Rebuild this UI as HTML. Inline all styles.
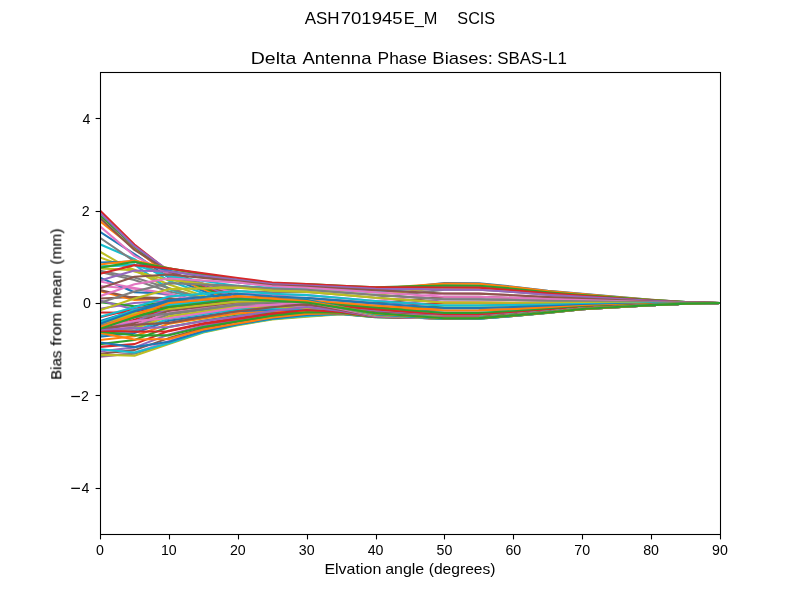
<!DOCTYPE html>
<html><head><meta charset="utf-8"><title>Delta Antenna Phase Biases</title>
<style>html,body{margin:0;padding:0;background:#fff;width:800px;height:600px;overflow:hidden}body{position:relative;font-family:"Liberation Sans",sans-serif}</style></head>
<body>
<svg width="800" height="600" viewBox="0 0 800 600" style="position:absolute;left:0;top:0">
<rect x="0" y="0" width="800" height="600" fill="#fff"/>
<defs><clipPath id="c"><rect x="100" y="72" width="620" height="462"/></clipPath></defs>
<g clip-path="url(#c)" fill="none" stroke-width="2.08" stroke-linejoin="round" stroke-linecap="butt">
<polyline points="100.00,328.87 134.44,317.32 168.89,307.02 203.33,303.00 237.78,298.98 272.22,300.82 306.67,302.54 341.11,307.85 375.56,313.16 410.00,315.71 444.44,318.25 478.89,318.09 513.33,315.50 547.78,312.45 582.22,309.03 616.67,307.06 651.11,305.16 685.56,303.66 720.00,303.00" stroke="#1f77b4"/>
<polyline points="100.00,326.10 134.44,315.94 168.89,305.77 203.33,302.54 237.78,299.30 272.22,300.97 306.67,302.54 341.11,307.88 375.56,313.22 410.00,315.70 444.44,318.17 478.89,318.02 513.33,315.44 547.78,312.40 582.22,309.00 616.67,307.04 651.11,305.15 685.56,303.65 720.00,303.00" stroke="#ff7f0e"/>
<polyline points="100.00,323.79 134.44,313.16 168.89,304.39 203.33,302.08 237.78,299.77 272.22,301.18 306.67,302.54 341.11,307.91 375.56,313.28 410.00,315.69 444.44,318.09 478.89,317.94 513.33,315.38 547.78,312.36 582.22,308.97 616.67,307.02 651.11,305.14 685.56,303.65 720.00,303.00" stroke="#2ca02c"/>
<polyline points="100.00,317.32 134.44,308.73 168.89,303.00 203.33,301.84 237.78,300.69 272.22,301.72 306.67,302.77 341.11,308.05 375.56,313.34 410.00,315.68 444.44,318.01 478.89,317.86 513.33,315.31 547.78,312.31 582.22,308.94 616.67,307.00 651.11,305.13 685.56,303.65 720.00,303.00" stroke="#d62728"/>
<polyline points="100.00,308.73 134.44,303.00 168.89,300.69 203.33,301.15 237.78,301.61 272.22,302.26 306.67,303.00 341.11,308.20 375.56,313.39 410.00,315.67 444.44,317.94 478.89,317.79 513.33,315.25 547.78,312.26 582.22,308.91 616.67,306.98 651.11,305.12 685.56,303.64 720.00,303.00" stroke="#9467bd"/>
<polyline points="100.00,298.52 134.44,296.99 168.89,298.38 203.33,300.69 237.78,303.00 272.22,302.96 306.67,303.12 341.11,308.28 375.56,313.45 410.00,315.66 444.44,317.86 478.89,317.71 513.33,315.19 547.78,312.21 582.22,308.88 616.67,306.96 651.11,305.11 685.56,303.64 720.00,303.00" stroke="#8c564b"/>
<polyline points="100.00,286.00 134.44,288.68 168.89,295.15 203.33,299.70 237.78,304.25 272.22,303.59 306.67,303.23 341.11,308.37 375.56,313.51 410.00,315.65 444.44,317.78 478.89,317.64 513.33,315.12 547.78,312.17 582.22,308.85 616.67,306.94 651.11,305.10 685.56,303.64 720.00,303.00" stroke="#e377c2"/>
<polyline points="100.00,272.05 134.44,279.90 168.89,291.45 203.33,298.50 237.78,305.54 272.22,304.25 306.67,303.35 341.11,308.46 375.56,313.57 410.00,315.63 444.44,317.69 478.89,317.54 513.33,315.05 547.78,312.11 582.22,308.81 616.67,306.92 651.11,305.08 685.56,303.63 720.00,303.00" stroke="#7f7f7f"/>
<polyline points="100.00,268.35 134.44,270.11 168.89,288.22 203.33,297.55 237.78,306.88 272.22,304.92 306.67,303.46 341.11,308.54 375.56,313.63 410.00,315.61 444.44,317.60 478.89,317.45 513.33,314.97 547.78,312.05 582.22,308.78 616.67,306.89 651.11,305.07 685.56,303.63 720.00,303.00" stroke="#bcbd22"/>
<polyline points="100.00,266.50 134.44,264.65 168.89,289.14 203.33,299.30 237.78,309.47 272.22,306.15 306.67,303.51 341.11,308.62 375.56,313.74 410.00,315.62 444.44,317.51 478.89,317.36 513.33,314.90 547.78,311.99 582.22,308.74 616.67,306.87 651.11,305.06 685.56,303.62 720.00,303.00" stroke="#17becf"/>
<polyline points="100.00,277.59 134.44,292.24 168.89,293.76 203.33,302.08 237.78,310.39 272.22,306.60 306.67,303.55 341.11,308.71 375.56,313.86 410.00,315.64 444.44,317.41 478.89,317.27 513.33,314.82 547.78,311.94 582.22,308.70 616.67,306.84 651.11,305.05 685.56,303.62 720.00,303.00" stroke="#1f77b4"/>
<polyline points="100.00,291.27 134.44,300.00 168.89,298.38 203.33,304.62 237.78,310.85 272.22,306.82 306.67,303.57 341.11,308.77 375.56,313.97 410.00,315.65 444.44,317.32 478.89,317.18 513.33,314.74 547.78,311.88 582.22,308.67 616.67,306.82 651.11,305.03 685.56,303.62 720.00,303.00" stroke="#ff7f0e"/>
<polyline points="100.00,302.08 134.44,306.23 168.89,302.08 203.33,306.70 237.78,311.32 272.22,307.04 306.67,303.59 341.11,308.84 375.56,314.09 410.00,315.65 444.44,317.21 478.89,317.06 513.33,314.65 547.78,311.81 582.22,308.62 616.67,306.79 651.11,305.02 685.56,303.61 720.00,303.00" stroke="#2ca02c"/>
<polyline points="100.00,312.52 134.44,312.70 168.89,305.31 203.33,308.43 237.78,311.55 272.22,307.16 306.67,303.60 341.11,308.92 375.56,314.24 410.00,315.67 444.44,317.09 478.89,316.95 513.33,314.55 547.78,311.74 582.22,308.57 616.67,306.76 651.11,305.00 685.56,303.61 720.00,303.00" stroke="#d62728"/>
<polyline points="100.00,300.51 134.44,309.47 168.89,303.00 203.33,307.27 237.78,311.55 272.22,307.15 306.67,303.58 341.11,308.99 375.56,314.40 410.00,315.69 444.44,316.98 478.89,316.84 513.33,314.46 547.78,311.66 582.22,308.53 616.67,306.73 651.11,304.98 685.56,303.60 720.00,303.00" stroke="#9467bd"/>
<polyline points="100.00,290.06 134.44,298.38 168.89,298.38 203.33,304.85 237.78,311.32 272.22,307.03 306.67,303.55 341.11,309.05 375.56,314.55 410.00,315.71 444.44,316.86 478.89,316.72 513.33,314.37 547.78,311.59 582.22,308.48 616.67,306.70 651.11,304.97 685.56,303.60 720.00,303.00" stroke="#8c564b"/>
<polyline points="100.00,281.52 134.44,287.99 168.89,293.76 203.33,302.54 237.78,311.32 272.22,307.03 306.67,303.55 341.11,309.17 375.56,314.78 410.00,315.68 444.44,316.58 478.89,316.45 513.33,314.14 547.78,311.42 582.22,308.37 616.67,306.62 651.11,304.93 685.56,303.58 720.00,303.00" stroke="#e377c2"/>
<polyline points="100.00,270.66 134.44,277.59 168.89,288.22 203.33,298.84 237.78,309.47 272.22,306.17 306.67,303.55 341.11,309.28 375.56,315.01 410.00,315.66 444.44,316.31 478.89,316.17 513.33,313.91 547.78,311.25 582.22,308.26 616.67,306.55 651.11,304.89 685.56,303.57 720.00,303.00" stroke="#7f7f7f"/>
<polyline points="100.00,257.49 134.44,269.74 168.89,284.52 203.33,295.70 237.78,306.88 272.22,304.97 306.67,303.55 341.11,308.94 375.56,314.32 410.00,314.62 444.44,314.92 478.89,314.80 513.33,312.77 547.78,310.39 582.22,307.72 616.67,306.18 651.11,304.69 685.56,303.51 720.00,303.00" stroke="#bcbd22"/>
<polyline points="100.00,244.33 134.44,259.11 168.89,280.82 203.33,293.18 237.78,305.54 272.22,304.34 306.67,303.54 341.11,308.58 375.56,313.63 410.00,313.33 444.44,313.03 478.89,312.93 513.33,311.22 547.78,309.22 582.22,306.97 616.67,305.67 651.11,304.42 685.56,303.43 720.00,303.00" stroke="#17becf"/>
<polyline points="100.00,231.85 134.44,254.03 168.89,277.59 203.33,290.92 237.78,304.25 272.22,303.73 306.67,303.52 341.11,308.06 375.56,312.59 410.00,311.54 444.44,310.48 478.89,310.41 513.33,309.14 547.78,307.64 582.22,305.96 616.67,305.00 651.11,304.06 685.56,303.32 720.00,303.00" stroke="#1f77b4"/>
<polyline points="100.00,221.23 134.44,248.48 168.89,275.28 203.33,289.14 237.78,303.00 272.22,303.14 306.67,303.51 341.11,307.53 375.56,311.55 410.00,309.77 444.44,307.99 478.89,307.94 513.33,307.09 547.78,306.09 582.22,304.97 616.67,304.33 651.11,303.71 685.56,303.21 720.00,303.00" stroke="#ff7f0e"/>
<polyline points="100.00,215.22 134.44,246.64 168.89,273.43 203.33,287.52 237.78,301.61 272.22,302.47 306.67,303.46 341.11,306.51 375.56,309.56 410.00,307.53 444.44,305.49 478.89,305.47 513.33,305.05 547.78,304.55 582.22,303.99 616.67,303.67 651.11,303.35 685.56,303.11 720.00,303.00" stroke="#2ca02c"/>
<polyline points="100.00,210.60 134.44,244.51 168.89,271.58 203.33,285.91 237.78,300.23 272.22,301.18 306.67,302.08 341.11,304.96 375.56,307.85 410.00,305.24 444.44,302.63 478.89,302.63 513.33,302.70 547.78,302.77 582.22,302.83 616.67,302.89 651.11,302.94 685.56,302.98 720.00,303.00" stroke="#d62728"/>
<polyline points="100.00,212.91 134.44,246.17 168.89,270.66 203.33,284.82 237.78,298.98 272.22,299.85 306.67,300.46 341.11,303.12 375.56,305.77 410.00,302.54 444.44,299.30 478.89,299.34 513.33,299.97 547.78,300.71 582.22,301.30 616.67,301.85 651.11,302.39 685.56,302.82 720.00,303.00" stroke="#9467bd"/>
<polyline points="100.00,217.99 134.44,249.87 168.89,271.58 203.33,283.99 237.78,296.39 272.22,297.47 306.67,297.92 341.11,300.64 375.56,303.37 410.00,300.02 444.44,296.67 478.89,296.73 513.33,297.81 547.78,299.08 582.22,300.09 616.67,301.04 651.11,301.96 685.56,302.68 720.00,303.00" stroke="#8c564b"/>
<polyline points="100.00,226.31 134.44,255.88 168.89,273.89 203.33,283.83 237.78,293.76 272.22,294.95 306.67,295.15 341.11,298.03 375.56,300.92 410.00,297.23 444.44,293.53 478.89,293.62 513.33,295.23 547.78,297.13 582.22,298.64 616.67,300.06 651.11,301.44 685.56,302.53 720.00,303.00" stroke="#e377c2"/>
<polyline points="100.00,237.86 134.44,261.42 168.89,276.20 203.33,283.67 237.78,291.13 272.22,292.23 306.67,291.91 341.11,294.80 375.56,297.69 410.00,293.67 444.44,289.65 478.89,289.78 513.33,292.05 547.78,294.72 582.22,296.86 616.67,298.86 651.11,300.80 685.56,302.33 720.00,303.00" stroke="#7f7f7f"/>
<polyline points="100.00,251.72 134.44,271.58 168.89,279.90 203.33,283.76 237.78,287.62 272.22,289.63 306.67,289.83 341.11,292.37 375.56,294.92 410.00,291.17 444.44,287.43 478.89,287.59 513.33,290.23 547.78,293.35 582.22,295.84 616.67,298.17 651.11,300.43 685.56,302.22 720.00,303.00" stroke="#bcbd22"/>
<polyline points="100.00,266.50 134.44,264.65 168.89,276.20 203.33,281.06 237.78,285.91 272.22,287.86 306.67,287.75 341.11,290.06 375.56,292.37 410.00,288.96 444.44,285.54 478.89,285.71 513.33,288.68 547.78,292.17 582.22,294.97 616.67,297.59 651.11,300.12 685.56,302.13 720.00,303.00" stroke="#17becf"/>
<polyline points="100.00,262.48 134.44,261.42 168.89,270.66 203.33,276.53 237.78,282.39 272.22,285.70 306.67,286.60 341.11,288.45 375.56,290.29 410.00,286.71 444.44,283.13 478.89,283.33 513.33,286.71 547.78,290.68 582.22,293.86 616.67,296.84 651.11,299.72 685.56,302.01 720.00,303.00" stroke="#1f77b4"/>
<polyline points="100.00,264.52 134.44,260.50 168.89,268.35 203.33,274.82 237.78,281.29 272.22,284.64 306.67,285.44 341.11,287.06 375.56,288.68 410.00,286.14 444.44,283.60 478.89,283.79 513.33,287.09 547.78,290.97 582.22,294.07 616.67,296.98 651.11,299.80 685.56,302.03 720.00,303.00" stroke="#ff7f0e"/>
<polyline points="100.00,267.75 134.44,261.74 168.89,268.35 203.33,274.12 237.78,279.90 272.22,283.35 306.67,284.06 341.11,285.68 375.56,287.29 410.00,286.41 444.44,285.54 478.89,285.71 513.33,288.68 547.78,292.17 582.22,294.97 616.67,297.59 651.11,300.12 685.56,302.13 720.00,303.00" stroke="#2ca02c"/>
<polyline points="100.00,273.76 134.44,265.12 168.89,268.49 203.33,273.27 237.78,278.05 272.22,282.49 306.67,284.06 341.11,285.68 375.56,287.29 410.00,287.36 444.44,287.43 478.89,287.59 513.33,290.23 547.78,293.35 582.22,295.84 616.67,298.17 651.11,300.43 685.56,302.22 720.00,303.00" stroke="#d62728"/>
<polyline points="100.00,280.50 134.44,270.43 168.89,271.58 203.33,275.74 237.78,279.90 272.22,284.00 306.67,285.44 341.11,287.06 375.56,288.68 410.00,289.16 444.44,289.65 478.89,289.78 513.33,292.05 547.78,294.72 582.22,296.86 616.67,298.86 651.11,300.80 685.56,302.33 720.00,303.00" stroke="#9467bd"/>
<polyline points="100.00,288.26 134.44,276.67 168.89,274.49 203.33,277.89 237.78,281.29 272.22,285.18 306.67,286.60 341.11,288.45 375.56,290.29 410.00,291.91 444.44,293.53 478.89,293.62 513.33,295.23 547.78,297.13 582.22,298.64 616.67,300.06 651.11,301.44 685.56,302.53 720.00,303.00" stroke="#8c564b"/>
<polyline points="100.00,296.21 134.44,284.24 168.89,278.51 203.33,280.45 237.78,282.39 272.22,286.23 306.67,287.75 341.11,290.06 375.56,292.37 410.00,294.52 444.44,296.67 478.89,296.73 513.33,297.81 547.78,299.08 582.22,300.09 616.67,301.04 651.11,301.96 685.56,302.68 720.00,303.00" stroke="#e377c2"/>
<polyline points="100.00,302.77 134.44,291.45 168.89,283.13 203.33,284.52 237.78,285.91 272.22,288.83 306.67,289.83 341.11,292.37 375.56,294.92 410.00,297.11 444.44,299.30 478.89,299.34 513.33,299.97 547.78,300.71 582.22,301.30 616.67,301.85 651.11,302.39 685.56,302.82 720.00,303.00" stroke="#7f7f7f"/>
<polyline points="100.00,310.25 134.44,298.61 168.89,289.14 203.33,288.38 237.78,287.62 272.22,290.59 306.67,291.91 341.11,294.80 375.56,297.69 410.00,300.16 444.44,302.63 478.89,302.63 513.33,302.70 547.78,302.77 582.22,302.83 616.67,302.89 651.11,302.94 685.56,302.98 720.00,303.00" stroke="#bcbd22"/>
<polyline points="100.00,316.86 134.44,307.30 168.89,296.53 203.33,293.83 237.78,291.13 272.22,293.73 306.67,295.15 341.11,298.03 375.56,300.92 410.00,303.21 444.44,305.49 478.89,305.47 513.33,305.05 547.78,304.55 582.22,303.99 616.67,303.67 651.11,303.35 685.56,303.11 720.00,303.00" stroke="#17becf"/>
<polyline points="100.00,321.02 134.44,310.39 168.89,300.23 203.33,296.99 237.78,293.76 272.22,296.24 306.67,297.92 341.11,300.64 375.56,303.37 410.00,305.68 444.44,307.99 478.89,307.94 513.33,307.09 547.78,306.09 582.22,304.97 616.67,304.33 651.11,303.71 685.56,303.21 720.00,303.00" stroke="#1f77b4"/>
<polyline points="100.00,324.48 134.44,314.37 168.89,303.32 203.33,299.86 237.78,296.39 272.22,298.65 306.67,300.46 341.11,303.12 375.56,305.77 410.00,308.13 444.44,310.48 478.89,310.41 513.33,309.14 547.78,307.64 582.22,305.96 616.67,305.00 651.11,304.06 685.56,303.32 720.00,303.00" stroke="#ff7f0e"/>
<polyline points="100.00,327.95 134.44,316.86 168.89,307.02 203.33,303.00 237.78,298.98 272.22,300.60 306.67,302.08 341.11,304.96 375.56,307.85 410.00,310.44 444.44,313.03 478.89,312.93 513.33,311.22 547.78,309.22 582.22,306.97 616.67,305.67 651.11,304.42 685.56,303.43 720.00,303.00" stroke="#2ca02c"/>
<polyline points="100.00,329.80 134.44,319.63 168.89,308.08 203.33,304.16 237.78,300.23 272.22,301.83 306.67,303.46 341.11,306.51 375.56,309.56 410.00,312.24 444.44,314.92 478.89,314.80 513.33,312.77 547.78,310.39 582.22,307.72 616.67,306.18 651.11,304.69 685.56,303.51 720.00,303.00" stroke="#d62728"/>
<polyline points="100.00,330.72 134.44,321.48 168.89,309.47 203.33,305.54 237.78,301.61 272.22,303.12 306.67,304.85 341.11,308.20 375.56,311.55 410.00,313.93 444.44,316.31 478.89,316.17 513.33,313.91 547.78,311.25 582.22,308.26 616.67,306.55 651.11,304.89 685.56,303.57 720.00,303.00" stroke="#9467bd"/>
<polyline points="100.00,331.64 134.44,323.33 168.89,310.85 203.33,306.93 237.78,303.00 272.22,304.30 306.67,306.00 341.11,309.29 375.56,312.59 410.00,314.58 444.44,316.58 478.89,316.45 513.33,314.14 547.78,311.42 582.22,308.37 616.67,306.62 651.11,304.93 685.56,303.58 720.00,303.00" stroke="#8c564b"/>
<polyline points="100.00,332.57 134.44,325.18 168.89,312.98 203.33,308.61 237.78,304.25 272.22,305.42 306.67,307.16 341.11,310.22 375.56,313.63 410.00,315.24 444.44,316.86 478.89,316.72 513.33,314.37 547.78,311.59 582.22,308.48 616.67,306.70 651.11,304.97 685.56,303.60 720.00,303.00" stroke="#e377c2"/>
<polyline points="100.00,333.49 134.44,327.02 168.89,314.55 203.33,310.05 237.78,305.54 272.22,306.45 306.67,308.08 341.11,310.72 375.56,314.32 410.00,315.65 444.44,316.98 478.89,316.84 513.33,314.46 547.78,311.66 582.22,308.53 616.67,306.73 651.11,304.98 685.56,303.60 720.00,303.00" stroke="#7f7f7f"/>
<polyline points="100.00,334.42 134.44,328.41 168.89,316.40 203.33,311.64 237.78,306.88 272.22,307.50 306.67,309.01 341.11,311.22 375.56,315.01 410.00,316.05 444.44,317.09 478.89,316.95 513.33,314.55 547.78,311.74 582.22,308.57 616.67,306.76 651.11,305.00 685.56,303.61 720.00,303.00" stroke="#bcbd22"/>
<polyline points="100.00,335.02 134.44,330.72 168.89,318.71 203.33,314.09 237.78,309.47 272.22,309.13 306.67,309.93 341.11,311.61 375.56,315.36 410.00,316.28 444.44,317.21 478.89,317.06 513.33,314.65 547.78,311.81 582.22,308.62 616.67,306.79 651.11,305.02 685.56,303.61 720.00,303.00" stroke="#17becf"/>
<polyline points="100.00,336.68 134.44,333.03 168.89,320.79 203.33,316.05 237.78,311.32 272.22,310.42 306.67,310.85 341.11,312.01 375.56,315.71 410.00,316.51 444.44,317.32 478.89,317.18 513.33,314.74 547.78,311.88 582.22,308.67 616.67,306.82 651.11,305.03 685.56,303.62 720.00,303.00" stroke="#1f77b4"/>
<polyline points="100.00,339.96 134.44,336.26 168.89,323.79 203.33,318.38 237.78,313.39 272.22,311.82 306.67,311.78 341.11,312.36 375.56,315.94 410.00,316.68 444.44,317.41 478.89,317.27 513.33,314.82 547.78,311.94 582.22,308.70 616.67,306.84 651.11,305.05 685.56,303.62 720.00,303.00" stroke="#ff7f0e"/>
<polyline points="100.00,344.12 134.44,339.96 168.89,327.02 203.33,320.72 237.78,315.47 272.22,313.21 306.67,312.70 341.11,312.72 375.56,316.17 410.00,316.84 444.44,317.51 478.89,317.36 513.33,314.90 547.78,311.99 582.22,308.74 616.67,306.87 651.11,305.06 685.56,303.62 720.00,303.00" stroke="#2ca02c"/>
<polyline points="100.00,346.89 134.44,344.12 168.89,330.72 203.33,323.32 237.78,317.69 272.22,314.68 306.67,313.63 341.11,313.08 375.56,316.40 410.00,317.00 444.44,317.60 478.89,317.45 513.33,314.97 547.78,312.05 582.22,308.78 616.67,306.89 651.11,305.07 685.56,303.63 720.00,303.00" stroke="#d62728"/>
<polyline points="100.00,351.51 134.44,347.35 168.89,334.42 203.33,325.87 237.78,319.77 272.22,316.07 306.67,314.55 341.11,313.44 375.56,316.63 410.00,317.16 444.44,317.69 478.89,317.54 513.33,315.05 547.78,312.11 582.22,308.81 616.67,306.92 651.11,305.08 685.56,303.63 720.00,303.00" stroke="#9467bd"/>
<polyline points="100.00,353.82 134.44,350.12 168.89,338.11 203.33,328.31 237.78,321.64 272.22,317.26 306.67,315.24 341.11,313.69 375.56,316.74 410.00,317.26 444.44,317.78 478.89,317.64 513.33,315.12 547.78,312.17 582.22,308.85 616.67,306.94 651.11,305.10 685.56,303.64 720.00,303.00" stroke="#8c564b"/>
<polyline points="100.00,357.05 134.44,352.90 168.89,340.88 203.33,330.36 237.78,323.51 272.22,318.46 306.67,315.94 341.11,313.94 375.56,316.86 410.00,317.37 444.44,317.88 478.89,317.73 513.33,315.20 547.78,312.22 582.22,308.89 616.67,306.97 651.11,305.11 685.56,303.64 720.00,303.00" stroke="#e377c2"/>
<polyline points="100.00,356.13 134.44,353.82 168.89,343.19 203.33,331.74 237.78,324.34 272.22,319.00 306.67,316.28 341.11,314.08 375.56,316.98 410.00,317.47 444.44,317.97 478.89,317.82 513.33,315.27 547.78,312.28 582.22,308.92 616.67,306.99 651.11,305.12 685.56,303.64 720.00,303.00" stroke="#7f7f7f"/>
<polyline points="100.00,354.74 134.44,355.67 168.89,344.12 203.33,332.51 237.78,325.18 272.22,319.55 306.67,316.63 341.11,314.23 375.56,317.09 410.00,317.58 444.44,318.06 478.89,317.91 513.33,315.35 547.78,312.34 582.22,308.96 616.67,307.02 651.11,305.14 685.56,303.65 720.00,303.00" stroke="#bcbd22"/>
<polyline points="100.00,349.20 134.44,352.43 168.89,343.19 203.33,331.92 237.78,324.76 272.22,319.04 306.67,315.94 341.11,314.01 375.56,317.09 410.00,317.62 444.44,318.15 478.89,318.00 513.33,315.43 547.78,312.40 582.22,308.99 616.67,307.04 651.11,305.15 685.56,303.65 720.00,303.00" stroke="#17becf"/>
<polyline points="100.00,342.50 134.44,347.12 168.89,341.81 203.33,331.13 237.78,324.34 272.22,318.41 306.67,315.01 341.11,313.65 375.56,316.86 410.00,317.55 444.44,318.25 478.89,318.09 513.33,315.50 547.78,312.45 582.22,309.03 616.67,307.06 651.11,305.16 685.56,303.66 720.00,303.00" stroke="#1f77b4"/>
<polyline points="100.00,332.89 134.44,339.50 168.89,339.04 203.33,329.54 237.78,323.51 272.22,317.49 306.67,313.86 341.11,313.30 375.56,316.86 410.00,317.60 444.44,318.34 478.89,318.19 513.33,315.58 547.78,312.51 582.22,309.07 616.67,307.09 651.11,305.18 685.56,303.66 720.00,303.00" stroke="#ff7f0e"/>
<polyline points="100.00,331.64 134.44,335.34 168.89,335.34 203.33,326.91 237.78,321.23 272.22,315.67 306.67,312.24 341.11,312.79 375.56,316.86 410.00,317.65 444.44,318.43 478.89,318.28 513.33,315.65 547.78,312.57 582.22,309.10 616.67,307.11 651.11,305.19 685.56,303.66 720.00,303.00" stroke="#2ca02c"/>
<polyline points="100.00,330.72 134.44,331.64 168.89,331.18 203.33,324.08 237.78,318.94 272.22,313.54 306.67,309.93 341.11,312.04 375.56,316.74 410.00,317.63 444.44,318.52 478.89,318.37 513.33,315.73 547.78,312.62 582.22,309.14 616.67,307.14 651.11,305.20 685.56,303.67 720.00,303.00" stroke="#d62728"/>
<polyline points="100.00,329.80 134.44,328.41 168.89,327.02 203.33,321.13 237.78,316.40 272.22,310.96 306.67,306.93 341.11,311.08 375.56,316.63 410.00,317.62 444.44,318.62 478.89,318.46 513.33,315.80 547.78,312.68 582.22,309.18 616.67,307.16 651.11,305.22 685.56,303.67 720.00,303.00" stroke="#9467bd"/>
<polyline points="100.00,328.41 134.44,324.71 168.89,322.87 203.33,317.06 237.78,311.32 272.22,307.20 306.67,303.92 341.11,310.04 375.56,316.28 410.00,317.50 444.44,318.71 478.89,318.55 513.33,315.88 547.78,312.74 582.22,309.21 616.67,307.19 651.11,305.23 685.56,303.68 720.00,303.00" stroke="#8c564b"/>
<polyline points="100.00,327.02 134.44,321.02 168.89,318.25 203.33,312.93 237.78,307.62 272.22,304.62 306.67,302.08 341.11,309.01 375.56,315.94 410.00,317.35 444.44,318.77 478.89,318.61 513.33,315.93 547.78,312.77 582.22,309.24 616.67,307.20 651.11,305.24 685.56,303.68 720.00,303.00" stroke="#e377c2"/>
<polyline points="100.00,325.64 134.44,317.32 168.89,313.63 203.33,309.01 237.78,304.39 272.22,302.47 306.67,300.69 341.11,308.08 375.56,315.47 410.00,317.15 444.44,318.82 478.89,318.67 513.33,315.98 547.78,312.81 582.22,309.26 616.67,307.22 651.11,305.25 685.56,303.68 720.00,303.00" stroke="#7f7f7f"/>
<polyline points="100.00,323.79 134.44,313.16 168.89,309.01 203.33,305.31 237.78,301.61 272.22,300.86 306.67,300.00 341.11,307.50 375.56,315.01 410.00,316.95 444.44,318.88 478.89,318.72 513.33,316.02 547.78,312.85 582.22,309.28 616.67,307.23 651.11,305.25 685.56,303.68 720.00,303.00" stroke="#bcbd22"/>
<polyline points="100.00,322.40 134.44,309.93 168.89,304.85 203.33,302.08 237.78,299.30 272.22,299.68 306.67,299.77 341.11,307.16 375.56,314.55 410.00,316.74 444.44,318.94 478.89,318.78 513.33,316.07 547.78,312.88 582.22,309.31 616.67,307.25 651.11,305.26 685.56,303.69 720.00,303.00" stroke="#17becf"/>
<polyline points="100.00,323.79 134.44,311.32 168.89,302.08 203.33,299.77 237.78,297.46 272.22,298.93 306.67,300.00 341.11,307.04 375.56,314.09 410.00,316.40 444.44,318.71 478.89,318.55 513.33,315.88 547.78,312.74 582.22,309.21 616.67,307.19 651.11,305.23 685.56,303.68 720.00,303.00" stroke="#1f77b4"/>
<polyline points="100.00,327.02 134.44,315.47 168.89,303.00 203.33,299.70 237.78,296.39 272.22,298.86 306.67,300.92 341.11,307.27 375.56,313.63 410.00,316.05 444.44,318.48 478.89,318.32 513.33,315.69 547.78,312.60 582.22,309.12 616.67,307.13 651.11,305.20 685.56,303.67 720.00,303.00" stroke="#ff7f0e"/>
<polyline points="100.00,328.87 134.44,317.32 168.89,307.02 203.33,303.00 237.78,298.98 272.22,300.82 306.67,302.54 341.11,307.85 375.56,313.16 410.00,315.71 444.44,318.25 478.89,318.09 513.33,315.50 547.78,312.45 582.22,309.03 616.67,307.06 651.11,305.16 685.56,303.66 720.00,303.00" stroke="#2ca02c"/>
</g>
<g stroke="#000" stroke-width="1.1" fill="none">
<line x1="100.50" y1="534.50" x2="100.50" y2="539.40"/>
<line x1="169.50" y1="534.50" x2="169.50" y2="539.40"/>
<line x1="238.50" y1="534.50" x2="238.50" y2="539.40"/>
<line x1="307.50" y1="534.50" x2="307.50" y2="539.40"/>
<line x1="376.50" y1="534.50" x2="376.50" y2="539.40"/>
<line x1="444.50" y1="534.50" x2="444.50" y2="539.40"/>
<line x1="513.50" y1="534.50" x2="513.50" y2="539.40"/>
<line x1="582.50" y1="534.50" x2="582.50" y2="539.40"/>
<line x1="651.50" y1="534.50" x2="651.50" y2="539.40"/>
<line x1="720.50" y1="534.50" x2="720.50" y2="539.40"/>
<line x1="95.60" y1="488.50" x2="100.50" y2="488.50"/>
<line x1="95.60" y1="395.50" x2="100.50" y2="395.50"/>
<line x1="95.60" y1="303.50" x2="100.50" y2="303.50"/>
<line x1="95.60" y1="211.50" x2="100.50" y2="211.50"/>
<line x1="95.60" y1="118.50" x2="100.50" y2="118.50"/>
<rect x="100.5" y="72.5" width="620" height="462" stroke-linejoin="miter"/>
</g>
<g font-family="Liberation Sans, sans-serif" fill="#000" opacity="0.999">
<text x="100.00" y="554.9" font-size="14.2" text-anchor="middle">0</text>
<text x="168.89" y="554.9" font-size="14.2" text-anchor="middle">10</text>
<text x="237.78" y="554.9" font-size="14.2" text-anchor="middle">20</text>
<text x="306.67" y="554.9" font-size="14.2" text-anchor="middle">30</text>
<text x="375.56" y="554.9" font-size="14.2" text-anchor="middle">40</text>
<text x="444.44" y="554.9" font-size="14.2" text-anchor="middle">50</text>
<text x="513.33" y="554.9" font-size="14.2" text-anchor="middle">60</text>
<text x="582.22" y="554.9" font-size="14.2" text-anchor="middle">70</text>
<text x="651.11" y="554.9" font-size="14.2" text-anchor="middle">80</text>
<text x="720.00" y="554.9" font-size="14.2" text-anchor="middle">90</text>
<text x="89.34" y="492.80" font-size="14.2" text-anchor="end">4</text>
<rect x="71.25" y="487.70" width="8.7" height="1.25"/>
<text x="88.85" y="401.00" font-size="14.2" text-anchor="end">2</text>
<rect x="71.25" y="395.90" width="8.7" height="1.25"/>
<text x="91.00" y="307.70" font-size="14.2" text-anchor="end">0</text>
<text x="89.59" y="216.00" font-size="14.2" text-anchor="end">2</text>
<text x="90.38" y="124.00" font-size="14.2" text-anchor="end">4</text>
<text x="304.76" y="23.90" font-size="17" textLength="34.86" lengthAdjust="spacingAndGlyphs">ASH</text>
<text x="340.69" y="23.90" font-size="17" textLength="61.92" lengthAdjust="spacingAndGlyphs">701945</text>
<text x="403.73" y="23.90" font-size="17" textLength="33.66" lengthAdjust="spacingAndGlyphs">E_M</text>
<text x="457.34" y="23.90" font-size="17" textLength="37.87" lengthAdjust="spacingAndGlyphs">SCIS</text>
<text x="250.76" y="63.60" font-size="17" textLength="45.50" lengthAdjust="spacingAndGlyphs">Delta</text>
<text x="302.48" y="63.60" font-size="17" textLength="68.98" lengthAdjust="spacingAndGlyphs">Antenna</text>
<text x="377.54" y="63.60" font-size="17" textLength="49.31" lengthAdjust="spacingAndGlyphs">Phase</text>
<text x="432.36" y="63.60" font-size="17" textLength="60.51" lengthAdjust="spacingAndGlyphs">Biases:</text>
<text x="497.23" y="63.60" font-size="17" textLength="69.65" lengthAdjust="spacingAndGlyphs">SBAS-L1</text>
<text x="324.40" y="573.70" font-size="14.2" textLength="56.92" lengthAdjust="spacingAndGlyphs">Elvation</text>
<text x="385.21" y="573.70" font-size="14.2" textLength="39.01" lengthAdjust="spacingAndGlyphs">angle</text>
<text x="428.70" y="573.70" font-size="14.2" textLength="66.83" lengthAdjust="spacingAndGlyphs">(degrees)</text>
<g transform="translate(61.3,378.6) rotate(-90)" stroke="#000" stroke-width="0.1">
<text x="-1.16" y="0" font-size="14.2" textLength="29.22" lengthAdjust="spacingAndGlyphs">Bias</text>
<text x="32.77" y="0" font-size="14.2" textLength="33.12" lengthAdjust="spacingAndGlyphs">from</text>
<text x="70.76" y="0" font-size="14.2" textLength="37.50" lengthAdjust="spacingAndGlyphs">mean</text>
<text x="114.01" y="0" font-size="14.2" textLength="36.14" lengthAdjust="spacingAndGlyphs">(mm)</text>
</g>
</g></svg>
</body></html>
